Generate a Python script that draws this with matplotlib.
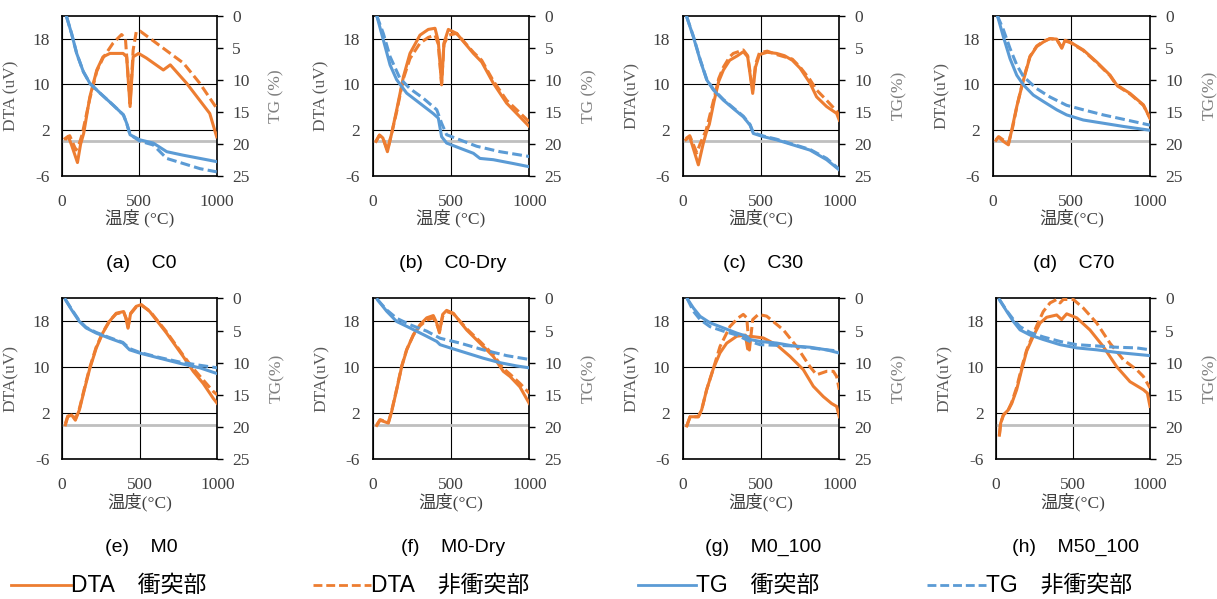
import matplotlib
matplotlib.use("Agg")
import matplotlib.pyplot as plt
from matplotlib.lines import Line2D

plt.rcParams['axes.unicode_minus'] = False

W, H = 1217, 599
ORANGE = '#ED7D31'
BLUE = '#5B9BD5'

# (temperature degC, value) pairs
# (a) C0
C0_DTA_HIT = [(20, 0.5), (40, 0.9), (60, -0.5), (100, -3.7), (120, -0.5), (140, 1.4), (180, 7.8), (225, 12.5),
              (265, 14.8), (310, 15.4), (395, 15.4), (418, 14.8), (440, 6.1), (460, 14.8), (495, 15.4), (545, 14.6),
              (655, 12.5), (700, 13.4), (805, 10.2), (890, 7.2), (955, 4.9), (1000, 0.8)]
C0_DTA_NON = [(20, 0.3), (50, 1.0), (90, -1.5), (110, -0.5), (130, 1.2), (180, 7.5), (225, 12.3), (265, 14.6),
              (300, 16.0), (330, 17.2), (385, 18.7), (410, 18.0), (440, 6.6), (460, 16.0), (480, 19.2), (505, 19.3),
              (570, 18.0), (700, 15.4), (785, 13.7), (890, 10.2), (1000, 5.8)]
C0_TG_HIT = [(30, 0.2), (62, 2.8), (95, 5.9), (138, 8.75), (181, 10.6), (246, 12.1), (332, 14.0), (397, 15.5),
             (418, 16.8), (440, 18.6), (504, 19.4), (590, 19.9), (677, 21.25), (784, 21.8), (892, 22.3), (1000, 22.8)]
C0_TG_NON = [(30, 0.2), (62, 2.8), (95, 5.9), (138, 8.75), (181, 10.6), (246, 12.1), (332, 14.0), (397, 15.5),
             (418, 16.8), (440, 18.6), (504, 19.6), (590, 20.2), (677, 22.3), (784, 23.1), (892, 23.9), (1000, 24.4)]

# (b) C0-Dry
C0D_DTA_HIT = [(21, 0.0), (43, 1.1), (65, 0.6), (94, -1.8), (121, 1.4), (153, 5.5), (196, 11.3), (238, 15.4),
               (302, 18.6), (355, 19.6), (398, 19.8), (419, 17.5), (440, 9.9), (455, 17.2), (483, 19.6), (536, 18.9),
               (643, 15.4), (696, 13.9), (770, 10.2), (855, 6.7), (940, 4.3), (1000, 2.6)]
C0D_DTA_NON = [(21, 0.0), (43, 1.1), (65, 0.6), (94, -1.5), (121, 1.4), (153, 5.2), (196, 11.0), (238, 14.5),
               (302, 17.2), (355, 18.2), (398, 18.6), (419, 17.0), (440, 10.2), (455, 17.0), (483, 18.6), (536, 18.9),
               (643, 15.6), (696, 14.2), (770, 10.6), (855, 7.2), (940, 5.0), (1000, 3.4)]
C0D_TG_HIT = [(26, 0.0), (68, 3.8), (111, 7.7), (153, 10.0), (217, 12.1), (302, 13.7), (387, 15.3), (419, 16.0),
              (440, 18.9), (472, 19.9), (557, 20.7), (643, 21.5), (685, 22.3), (770, 22.5), (898, 23.1), (1000, 23.6)]
C0D_TG_NON = [(26, 0.0), (68, 2.8), (111, 6.4), (174, 9.8), (238, 11.4), (323, 12.9), (409, 14.7), (440, 16.8),
              (472, 18.6), (557, 19.4), (664, 20.4), (813, 21.25), (1000, 22.0)]

# (c) C30
C30_DTA_HIT = [(20, 0.3), (45, 0.8), (100, -4.1), (130, -0.5), (150, 1.5), (170, 3.0), (200, 7.0), (230, 10.5),
               (260, 12.5), (300, 14.2), (350, 15.0), (387, 15.7), (415, 14.8), (447, 8.4), (465, 13.0), (490, 15.2),
               (540, 15.6), (600, 15.4), (650, 15.0), (700, 14.2), (750, 12.8), (813, 10.2), (855, 7.8), (919, 6.1),
               (983, 4.9), (1000, 3.7)]
C30_DTA_NON = [(20, 0.5), (45, 1.0), (90, -2.0), (110, -0.5), (150, 2.0), (200, 7.5), (230, 11.0), (260, 13.0),
               (300, 14.8), (323, 15.4), (387, 16.0), (415, 15.0), (447, 9.0), (465, 13.5), (490, 15.5), (540, 15.8),
               (600, 15.2), (700, 14.4), (750, 13.0), (813, 10.8), (855, 9.0), (919, 7.2), (983, 5.3), (1000, 4.3)]
C30_TG_HIT = [(26, 0.2), (68, 3.3), (111, 6.9), (153, 10.0), (196, 11.6), (260, 13.2), (323, 14.5), (387, 15.8),
              (430, 17.1), (451, 18.4), (515, 18.9), (600, 19.4), (706, 20.2), (813, 21.0), (919, 22.5), (1000, 24.1)]
C30_TG_NON = [(26, 0.2), (68, 3.2), (111, 6.8), (153, 9.9), (196, 11.5), (260, 13.1), (323, 14.4), (387, 15.7),
              (430, 17.0), (451, 18.3), (515, 18.8), (600, 19.3), (706, 20.1), (813, 20.9), (919, 22.3), (1000, 24.0)]

# (d) C70
C70_DTA_HIT = [(21, 0.2), (36, 0.8), (68, 0.0), (100, -0.6), (121, 2.0), (153, 6.1), (195, 10.7), (237, 14.8),
               (280, 16.6), (322, 17.4), (364, 18.0), (407, 17.9), (439, 16.3), (460, 17.7), (492, 17.4), (576, 16.0),
               (661, 13.9), (746, 11.6), (788, 9.9), (873, 8.4), (958, 6.4), (1000, 4.0)]
C70_DTA_NON = [(21, 0.3), (40, 0.8), (70, 0.2), (100, -0.3), (125, 2.2), (155, 6.3), (195, 10.9), (237, 14.9),
               (280, 16.7), (322, 17.5), (364, 18.0), (407, 17.8), (439, 16.5), (460, 17.6), (492, 17.3), (576, 15.9),
               (661, 13.8), (746, 11.5), (788, 9.8), (873, 8.3), (958, 6.3), (1000, 4.1)]
C70_TG_HIT = [(30, 0.0), (68, 3.3), (110, 6.7), (153, 9.3), (195, 10.8), (258, 12.4), (322, 13.4), (407, 14.7),
              (470, 15.5), (576, 16.3), (703, 16.8), (830, 17.3), (1000, 17.9)]
C70_TG_NON = [(30, 0.0), (68, 2.2), (110, 5.1), (153, 7.7), (195, 9.5), (280, 11.4), (364, 12.7), (470, 14.0),
              (576, 14.7), (703, 15.5), (852, 16.3), (1000, 17.1)]

# (e) M0
M0_DTA_HIT = [(22, 0.0), (37, 1.4), (62, 1.7), (86, 0.8), (112, 2.6), (144, 6.1), (177, 9.6), (220, 13.3),
              (263, 16.0), (306, 18.0), (349, 19.4), (397, 19.7), (412, 18.5), (425, 16.8), (442, 19.4), (478, 20.6),
              (511, 20.9), (565, 19.7), (672, 16.0), (780, 11.9), (845, 9.3), (909, 7.2), (974, 4.6), (1000, 3.7)]
M0_DTA_NON = [(22, 0.2), (37, 1.5), (62, 1.8), (86, 1.0), (112, 2.8), (144, 6.3), (177, 9.8), (220, 13.5),
              (263, 16.1), (306, 18.1), (349, 19.3), (397, 19.6), (412, 18.6), (425, 17.0), (442, 19.3), (478, 20.5),
              (511, 20.8), (565, 19.8), (672, 16.2), (780, 12.1), (845, 9.8), (909, 7.8), (974, 5.8), (1000, 5.2)]
M0_TG_HIT = [(22, 0.2), (62, 1.8), (112, 3.6), (155, 4.6), (220, 5.4), (306, 6.2), (392, 6.95), (435, 8.0),
             (500, 8.5), (629, 9.3), (759, 10.1), (888, 10.8), (1000, 11.7)]
M0_TG_NON = [(22, 0.2), (62, 1.7), (112, 3.5), (155, 4.5), (220, 5.3), (306, 6.1), (392, 6.85), (435, 7.8),
             (500, 8.4), (629, 9.2), (759, 9.9), (888, 10.4), (1000, 10.8)]

# (f) M0-Dry
M0D_DTA_HIT = [(26, -0.1), (47, 0.8), (79, 0.5), (100, 0.3), (121, 2.3), (153, 6.1), (185, 10.1), (217, 13.0),
               (260, 15.7), (302, 17.4), (345, 18.6), (387, 19.0), (409, 17.7), (426, 16.0), (447, 19.2), (472, 19.9),
               (515, 19.4), (600, 16.5), (685, 14.2), (770, 11.9), (834, 9.3), (877, 8.4), (940, 6.6), (1000, 3.7)]
M0D_DTA_NON = [(26, 0.0), (47, 0.9), (79, 0.6), (100, 0.4), (121, 2.4), (153, 6.2), (185, 10.2), (217, 13.1),
               (260, 15.6), (302, 17.2), (345, 18.2), (387, 18.6), (409, 17.5), (426, 16.3), (447, 18.9), (472, 19.7),
               (515, 19.3), (600, 16.7), (685, 14.5), (770, 12.2), (834, 9.8), (877, 8.8), (940, 7.2), (1000, 5.5)]
M0D_TG_HIT = [(30, 0.2), (89, 2.0), (153, 3.6), (238, 4.6), (345, 5.9), (409, 6.7), (430, 7.2), (494, 7.7),
              (600, 8.5), (706, 9.3), (813, 10.0), (919, 10.5), (1000, 10.8)]
M0D_TG_NON = [(30, 0.2), (89, 1.8), (153, 3.1), (238, 4.1), (345, 5.1), (430, 6.2), (557, 6.95), (706, 8.0),
              (855, 8.9), (1000, 9.5)]

# (g) M0_100
M0100_DTA_HIT = [(26, -0.2), (47, 1.4), (100, 1.4), (121, 2.6), (153, 6.1), (196, 9.8), (238, 12.5), (281, 14.2),
                 (345, 15.4), (400, 15.6), (415, 13.2), (430, 15.4), (515, 15.1), (600, 13.9), (685, 11.9),
                 (770, 9.6), (834, 6.7), (898, 4.9), (951, 3.7), (983, 3.2), (1000, 1.4)]
M0100_DTA_NON = [(26, -0.2), (47, 1.4), (100, 1.4), (121, 2.6), (153, 6.1), (196, 9.8), (238, 13.6), (302, 17.1),
                 (355, 18.6), (387, 19.2), (409, 18.6), (426, 13.0), (447, 18.3), (483, 19.2), (536, 18.9),
                 (643, 16.5), (728, 13.6), (813, 10.1), (855, 8.7), (919, 9.3), (962, 9.3), (983, 8.4), (1000, 6.1)]
M0100_TG_HIT = [(30, 0.1), (68, 1.5), (111, 2.8), (174, 3.8), (260, 4.6), (345, 5.4), (409, 5.9), (430, 6.4),
                (494, 6.7), (600, 6.95), (706, 7.4), (813, 7.6), (919, 8.0), (1000, 8.5)]
M0100_TG_NON = [(30, 0.1), (68, 2.0), (111, 3.3), (174, 4.4), (260, 5.1), (345, 5.7), (430, 6.7), (494, 7.2),
                (600, 7.3), (706, 7.4), (813, 7.7), (919, 8.0), (1000, 8.2)]

# (h) M50_100
M50_DTA_HIT = [(22, -1.8), (30, 0.25), (48, 1.7), (80, 2.6), (102, 3.7), (134, 6.1), (167, 9.6), (199, 12.8),
               (242, 15.4), (286, 17.7), (329, 18.7), (394, 19.1), (426, 18.3), (459, 19.3), (524, 18.6), (610, 16.5),
               (697, 13.6), (784, 10.1), (870, 7.5), (957, 6.1), (983, 5.5), (1000, 3.2)]
M50_DTA_NON = [(22, -1.8), (30, 0.25), (48, 1.7), (80, 2.6), (102, 3.9), (134, 6.5), (167, 10.0), (199, 13.0),
               (264, 17.2), (307, 19.7), (351, 21.2), (394, 21.8), (416, 21.2), (437, 21.8), (502, 21.8), (567, 20.3),
               (654, 17.7), (740, 14.2), (827, 11.3), (913, 9.6), (957, 8.4), (1000, 6.4)]
M50_TG_HIT = [(22, 0.2), (69, 2.0), (113, 3.6), (156, 4.9), (221, 5.7), (307, 6.4), (416, 7.2), (524, 7.7),
              (654, 8.0), (784, 8.4), (913, 8.7), (1000, 8.9)]
M50_TG_NON = [(22, 0.2), (69, 1.9), (113, 3.3), (156, 4.4), (221, 5.3), (307, 6.0), (416, 6.7), (524, 7.2),
              (654, 7.4), (784, 7.6), (913, 7.7), (1000, 8.0)]

captions = ['(a)    C0', '(b)    C0-Dry', '(c)    C30', '(d)    C70',
            '(e)    M0', '(f)    M0-Dry', '(g)    M0_100', '(h)    M50_100']
legend_labels = ['DTA\u3000衝突部', 'DTA\u3000非衝突部', 'TG\u3000衝突部', 'TG\u3000非衝突部']
x_ticks = [0, 500, 1000]
dta_ticks = [-6, 2, 10, 18]
tg_ticks = [0, 5, 10, 15, 20, 25]

series = [
    (C0_DTA_HIT, C0_DTA_NON, C0_TG_HIT, C0_TG_NON),
    (C0D_DTA_HIT, C0D_DTA_NON, C0D_TG_HIT, C0D_TG_NON),
    (C30_DTA_HIT, C30_DTA_NON, C30_TG_HIT, C30_TG_NON),
    (C70_DTA_HIT, C70_DTA_NON, C70_TG_HIT, C70_TG_NON),
    (M0_DTA_HIT, M0_DTA_NON, M0_TG_HIT, M0_TG_NON),
    (M0D_DTA_HIT, M0D_DTA_NON, M0D_TG_HIT, M0D_TG_NON),
    (M0100_DTA_HIT, M0100_DTA_NON, M0100_TG_HIT, M0100_TG_NON),
    (M50_DTA_HIT, M50_DTA_NON, M50_TG_HIT, M50_TG_NON),
]

# plot boxes in pixels: left, right, top, bottom
boxes = [(62, 216.7, 15.7, 175.7), (372.7, 529.3, 15.7, 175.7), (682.7, 839.3, 15.7, 175.7), (992.7, 1150, 15.7, 175.7),
         (62, 217.3, 298.3, 459.3), (372.7, 529.3, 298.3, 459.3), (682.7, 839.3, 298.3, 459.3), (996, 1150, 298.3, 459.3)]

SERIF = 'Liberation Serif'
CJK = ['Liberation Serif', 'Noto Sans CJK JP']
SANS_CJK = ['Liberation Sans', 'Noto Sans CJK JP']
TXT = '#404040'
DASH = (0, (3.2, 1.4))

fig = plt.figure(figsize=(W / 100, H / 100), dpi=100)


def xy(pairs):
    return [p[0] for p in pairs], [p[1] for p in pairs]


for i, ((dh, dn, th, tn), (l, r, t, b)) in enumerate(zip(series, boxes)):
    ax = fig.add_axes([l / W, 1 - b / H, (r - l) / W, (b - t) / H])
    ax.set_xlim(0, 1000)
    ax.set_ylim(-6, 22)
    ax.set_xticks(x_ticks)
    ax.set_yticks(dta_ticks)
    ax.grid(True, color='black', lw=0.8)
    ax.set_axisbelow(True)
    ax.axhline(0, color='#BFBFBF', lw=2, zorder=1.5)
    ax.plot(*xy(dh), color=ORANGE, lw=2.2, zorder=3, solid_joinstyle='round')
    ax.plot(*xy(dn), color=ORANGE, lw=2.2, ls=DASH, zorder=3)
    for s in ax.spines.values():
        s.set_color('black')
        s.set_linewidth(1.2)
    ax.tick_params(axis='both', length=0, labelsize=12.5, colors=TXT)
    ax.tick_params(axis='x', pad=13)
    ax.tick_params(axis='y', pad=9)
    for lab in ax.get_xticklabels() + ax.get_yticklabels():
        lab.set_family(SERIF)

    spaced = i < 2
    ax.set_ylabel('DTA (uV)' if spaced else 'DTA(uV)', family=SERIF, fontsize=12.5, color='#595959')
    ax.yaxis.set_label_coords(-43 / (r - l), 0.5)
    ax.set_xlabel('温度 (°C)' if spaced else '温度(°C)', family=CJK, fontsize=12.5, color='#404040')
    ax.xaxis.set_label_coords(0.5, -42.5 / (b - t))
    ax.xaxis.label.set_va('center')

    ax2 = ax.twinx()
    ax2.set_ylim(25, 0)
    ax2.set_yticks(tg_ticks)
    ax2.plot(*xy(th), color=BLUE, lw=2.2, solid_joinstyle='round')
    ax2.plot(*xy(tn), color=BLUE, lw=2.2, ls=DASH)
    for s in ax2.spines.values():
        s.set_visible(False)
    ax2.tick_params(axis='y', length=4, width=1, direction='out', pad=7, labelsize=12.5, colors=TXT)
    ax2.tick_params(axis='y', color='black')
    for lab in ax2.get_yticklabels():
        lab.set_family(SERIF)
    ax2.set_ylabel('TG (%)' if spaced else 'TG(%)', family=SERIF, fontsize=12.5, color='#7F7F7F')
    ax2.yaxis.set_label_coords(1 + 52 / (r - l), 0.5)

    cy = 263 if i < 4 else 547
    fig.text(((l + r) / 2 + 2) / W, 1 - cy / H, captions[i], ha='center', va='center',
             family='Liberation Sans', fontsize=14, color='black')

# legend row
leg_styles = [(ORANGE, '-'), (ORANGE, DASH), (BLUE, '-'), (BLUE, DASH)]
leg_x = [(11, 71), (313, 371), (638, 696), (927, 986)]
ly = 1 - 585 / H
for (c, ls), (x0, x1), lab in zip(leg_styles, leg_x, legend_labels):
    fig.add_artist(Line2D([x0 / W, x1 / W], [ly, ly], color=c, lw=2.0, ls=ls, transform=fig.transFigure))
    fig.text(x1 / W, ly, lab, ha='left', va='center', family=SANS_CJK, fontsize=16.5, color='black')

fig.savefig('out.png', dpi=100)
